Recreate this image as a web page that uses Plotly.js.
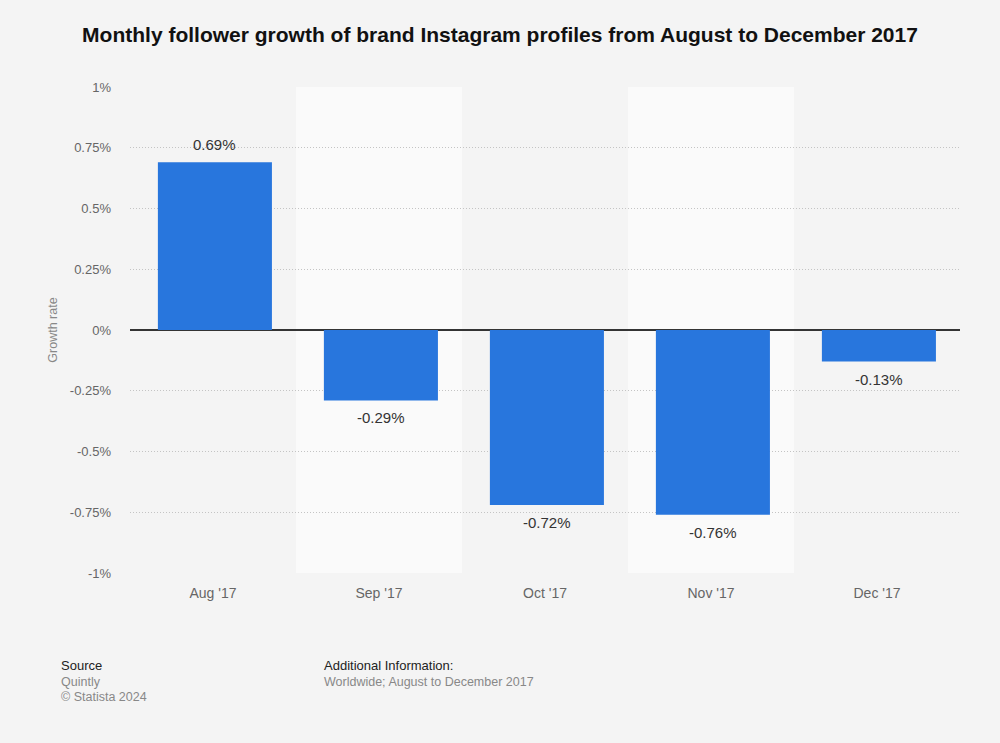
<!DOCTYPE html>
<html>
<head>
<meta charset="utf-8">
<script src="https://cdn.plot.ly/plotly-3.0.1.min.js"></script>
<style>html,body{margin:0;padding:0;background:#f4f4f4;}#chart{width:1000px;height:743px;}</style>
</head>
<body>
<div id="chart"></div>
<script>
const categories = ["Aug '17", "Sep '17", "Oct '17", "Nov '17", "Dec '17"];
const growthRate = [0.69, -0.29, -0.72, -0.76, -0.13];
const yTickVals = [1, 0.75, 0.5, 0.25, 0, -0.25, -0.5, -0.75, -1];
const yTickText = ["1%", "0.75%", "0.5%", "0.25%", "0%", "-0.25%", "-0.5%", "-0.75%", "-1%"];

const font = "Liberation Sans, Arial, sans-serif";
const idx = categories.map((c, i) => i);

const bands = idx.filter(i => i % 2 === 1).map(i => ({
  type: 'rect', xref: 'x', yref: 'paper', x0: i - 0.5, x1: i + 0.5, y0: 0, y1: 1,
  fillcolor: '#fafafa', line: {width: 0}, layer: 'below'
}));

const trace = {
  type: 'bar',
  x: idx,
  y: growthRate,
  width: 0.687,
  offset: -0.332,
  marker: {color: '#2876dd'},
  hoverinfo: 'none'
};

const labelAnns = growthRate.map((v, i) => ({
  x: i + 0.01, y: v, xref: 'x', yref: 'y',
  text: v + '%', showarrow: false,
  xanchor: 'center', yanchor: v >= 0 ? 'bottom' : 'top',
  yshift: v >= 0 ? 7 : -7,
  font: {family: font, size: 15, color: '#333'}
}));

const plotW = 1000 - 130 - 40, plotH = 743 - 87 - 170;
const foot = [
  {text: 'Source', px: 59, py: 665, size: 13, color: '#222'},
  {text: 'Quintly', px: 59, py: 682, size: 12.5, color: '#888'},
  {text: '© Statista 2024', px: 59, py: 697, size: 12.5, color: '#888'},
  {text: 'Additional Information:', px: 322, py: 665, size: 13, color: '#222'},
  {text: 'Worldwide; August to December 2017', px: 322, py: 682, size: 12.5, color: '#888'}
];
const footAnns = foot.map(f => ({
  text: f.text, xref: 'paper', yref: 'paper',
  x: (f.px - 130) / plotW, y: 1 - (f.py - 87) / plotH,
  xanchor: 'left', yanchor: 'middle', showarrow: false,
  font: {family: font, size: f.size, color: f.color}
}));

const layout = {
  width: 1000, height: 743,
  paper_bgcolor: '#f4f4f4', plot_bgcolor: '#f4f4f4',
  margin: {l: 130, r: 40, t: 87, b: 170},
  showlegend: false,
  title: {text: '<b>Monthly follower growth of brand Instagram profiles from August to December 2017</b>',
    font: {family: font, size: 21, color: '#111'}, x: 0.5, xanchor: 'center', y: 0.953, yanchor: 'middle'},
  xaxis: {
    range: [-0.5, categories.length - 0.5],
    tickvals: idx, ticktext: categories,
    showgrid: false, zeroline: false, showline: false, ticks: '',
    ticklabelstandoff: 10,
    tickfont: {family: font, size: 14, color: '#666'}
  },
  yaxis: {
    range: [-1, 1], tickvals: yTickVals, ticktext: yTickText,
    showgrid: true, gridcolor: '#c4c4c4', griddash: '1px,2px', gridwidth: 1,
    zeroline: true, zerolinecolor: '#333', zerolinewidth: 1.2,
    showline: false, ticks: '', ticklabelstandoff: 18,
    tickfont: {family: font, size: 13, color: '#666'},
    title: {text: 'Growth rate', font: {family: font, size: 12.5, color: '#888'}, standoff: 9}
  },
  shapes: bands,
  annotations: labelAnns.concat(footAnns),
  font: {family: font}
};

Plotly.newPlot('chart', [trace], layout, {staticPlot: true});
</script>
</body>
</html>
